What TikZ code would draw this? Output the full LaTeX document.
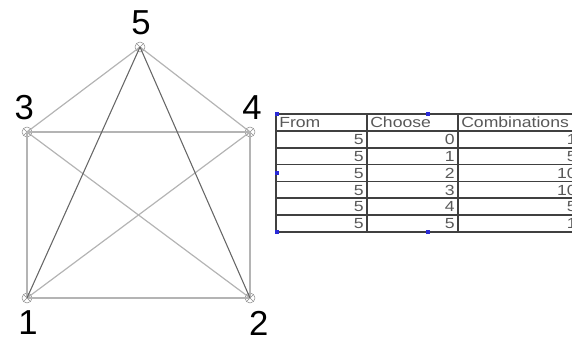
\documentclass[tikz,border=0pt]{standalone}
\usepackage{fontspec}
\setmainfont{Liberation Sans}
\usepackage{xcolor}
\usepackage{tikz}
\usetikzlibrary{positioning}
\definecolor{edgelight}{HTML}{B4B4B4}
\definecolor{edgedark}{HTML}{666666}
\definecolor{vertexgray}{HTML}{8C8C8C}
\definecolor{gridgray}{HTML}{404040}
\definecolor{cellink}{HTML}{585858}
\definecolor{handleblue}{HTML}{2B2BD6}
\newcommand{\widetext}[1]{\scalebox{1.2}[1]{#1}}
\tikzset{
  vertex/.style={
    circle, draw=vertexgray, thin, inner sep=0pt, minimum size=7.5pt,
    path picture={
      \draw[vertexgray]
        (path picture bounding box.north west) -- (path picture bounding box.south east)
        (path picture bounding box.north east) -- (path picture bounding box.south west);
    }
  },
  numlabel/.style={inner sep=0pt, text=black, font=\fontsize{26}{26}\selectfont},
  graphedge/.style={draw=edgelight, line width=0.9pt},
  darkedge/.style={draw=edgedark, line width=0.8pt},
  gridline/.style={draw=gridgray, line width=1.3pt},
  headcell/.style={anchor=west, inner sep=0pt, text=cellink, font=\fontsize{11}{11}\selectfont},
  numcell/.style={anchor=east, inner sep=0pt, text=cellink, font=\fontsize{11}{11}\selectfont},
  handle/.style={rectangle, fill=handleblue, inner sep=0pt, minimum size=2.4pt},
}

\begin{document}
\begin{tikzpicture}[x=0.75pt, y=-0.75pt]
  \useasboundingbox (0,0) rectangle (572,341);
  \clip (0,0) rectangle (572,341);

  % graph
  \node[vertex] (n1) at (27,298) {};
  \node[vertex] (n2) at (250,298) {};
  \node[vertex] (n3) at (27,132) {};
  \node[vertex] (n4) at (250,132) {};
  \node[vertex] (n5) at (140,47) {};

  \node[numlabel, above=5pt of n5, xshift=0.8pt] (l5) {5};
  \node[numlabel, above=5pt of n3, xshift=-2pt] (l3) {3};
  \node[numlabel, above=5pt of n4, xshift=1.5pt] (l4) {4};
  \node[numlabel, below=5.5pt of n1, xshift=0.8pt] (l1) {1};
  \node[numlabel, below=5.5pt of n2, xshift=6.5pt] (l2) {2};

  \draw[graphedge] (n1.center) -- (n2.center);
  \draw[graphedge] (n1.center) -- (n3.center);
  \draw[graphedge] (n2.center) -- (n4.center);
  \draw[graphedge] (n3.center) -- (n4.center);
  \draw[graphedge] (n3.center) -- (n5.center);
  \draw[graphedge] (n4.center) -- (n5.center);
  \draw[graphedge] (n3.center) -- (n2.center);
  \draw[graphedge] (n4.center) -- (n1.center);
  \draw[darkedge] (n5.center) -- (n1.center);
  \draw[darkedge] (n5.center) -- (n2.center);

  % table
  \draw[gridline] (276,114) rectangle (580,232);
  \foreach \r in {1,...,6} {
    \draw[gridline] (276,{114+16.86*\r}) -- (580,{114+16.86*\r});
  }
  \draw[gridline] (367,114) -- (367,232);
  \draw[gridline] (458,114) -- (458,232);

  \node[headcell] (hfrom) at (279,122.6) {\widetext{From}};
  \node[headcell] (hchoose) at (370,122.6) {\widetext{Choose}};
  \node[headcell] (hcomb) at (461,122.6) {\widetext{Combinations}};
  \foreach \k/\c in {0/1,1/5,2/10,3/10,4/5,5/1} {
    \node[numcell] (from\k) at (364,{139.5+16.86*\k}) {\widetext{5}};
    \node[numcell] (choose\k) at (455,{139.5+16.86*\k}) {\widetext{\k}};
    \node[numcell] (comb\k) at (577,{139.5+16.86*\k}) {\widetext{\c}};
  }

  % selection handles
  \node[handle] (h1) at (277,114) {};
  \node[handle] (h2) at (428,114) {};
  \node[handle] (h3) at (277,173) {};
  \node[handle] (h4) at (277,232) {};
  \node[handle] (h5) at (428,232) {};
\end{tikzpicture}
\end{document}
